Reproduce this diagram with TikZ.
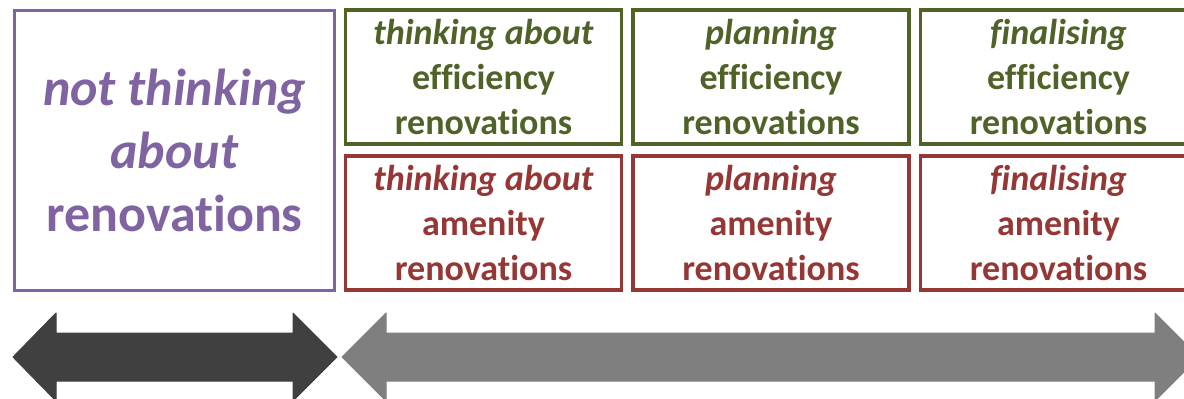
\documentclass[tikz,border=0pt]{standalone}
\usepackage{fontspec}
\setmainfont{Carlito}[Ligatures=NoCommon]
\definecolor{stagepurple}{HTML}{8064A2}
\definecolor{effgreen}{HTML}{4F6228}
\definecolor{amenred}{HTML}{953735}
\definecolor{darkarrow}{HTML}{404040}
\definecolor{greyarrow}{HTML}{7F7F7F}
\begin{document}
\begin{tikzpicture}[x=1pt,y=-1pt,
  stagebox/.style={draw,line width=3.5pt,rectangle,inner sep=0pt,align=center,
    minimum width=276pt,minimum height=134pt,font=\bfseries\fontsize{36}{45}\selectfont},
  effbox/.style={stagebox,draw=effgreen,text=effgreen},
  amenbox/.style={stagebox,draw=amenred,text=amenred},
  bigbox/.style={draw=stagepurple,text=stagepurple,line width=3.5pt,rectangle,inner sep=0pt,
    align=center,minimum width=320pt,minimum height=280pt,
    font=\bfseries\fontsize{52}{63}\selectfont},
  bigarrow/.style={line join=round,line width=1pt}]
\useasboundingbox (0,0) rectangle (1184,399);
\begin{scope}
\clip (0,0) rectangle (1184,399);

% not thinking stage
\node[bigbox] (none) at (174.5,150.5) {\textit{not thinking}\\\textit{about}\\renovations};

% efficiency row
\node[effbox] (eff1) at (483.5,77) {\textit{thinking about}\\efficiency\\renovations};
\node[effbox] (eff2) at (771,77) {\textit{planning}\\efficiency\\renovations};
\node[effbox] (eff3) at (1058.5,77) {\textit{finalising}\\efficiency\\renovations};

% amenity row
\node[amenbox] (am1) at (483.5,223) {\textit{thinking about}\\amenity\\renovations};
\node[amenbox] (am2) at (771,223) {\textit{planning}\\amenity\\renovations};
\node[amenbox] (am3) at (1058.5,223) {\textit{finalising}\\amenity\\renovations};

% double-headed arrows
\fill[darkarrow,draw=darkarrow,bigarrow] (13,357) -- (56,313) -- (56,333) -- (293,333) -- (293,313)
  -- (337,357) -- (293,401) -- (293,381) -- (56,381) -- (56,401) -- cycle;
\fill[greyarrow,draw=greyarrow,bigarrow] (342,357) -- (386,313) -- (386,333) -- (1155,333) -- (1155,313)
  -- (1199,357) -- (1155,401) -- (1155,381) -- (386,381) -- (386,401) -- cycle;
\end{scope}
\end{tikzpicture}
\end{document}
